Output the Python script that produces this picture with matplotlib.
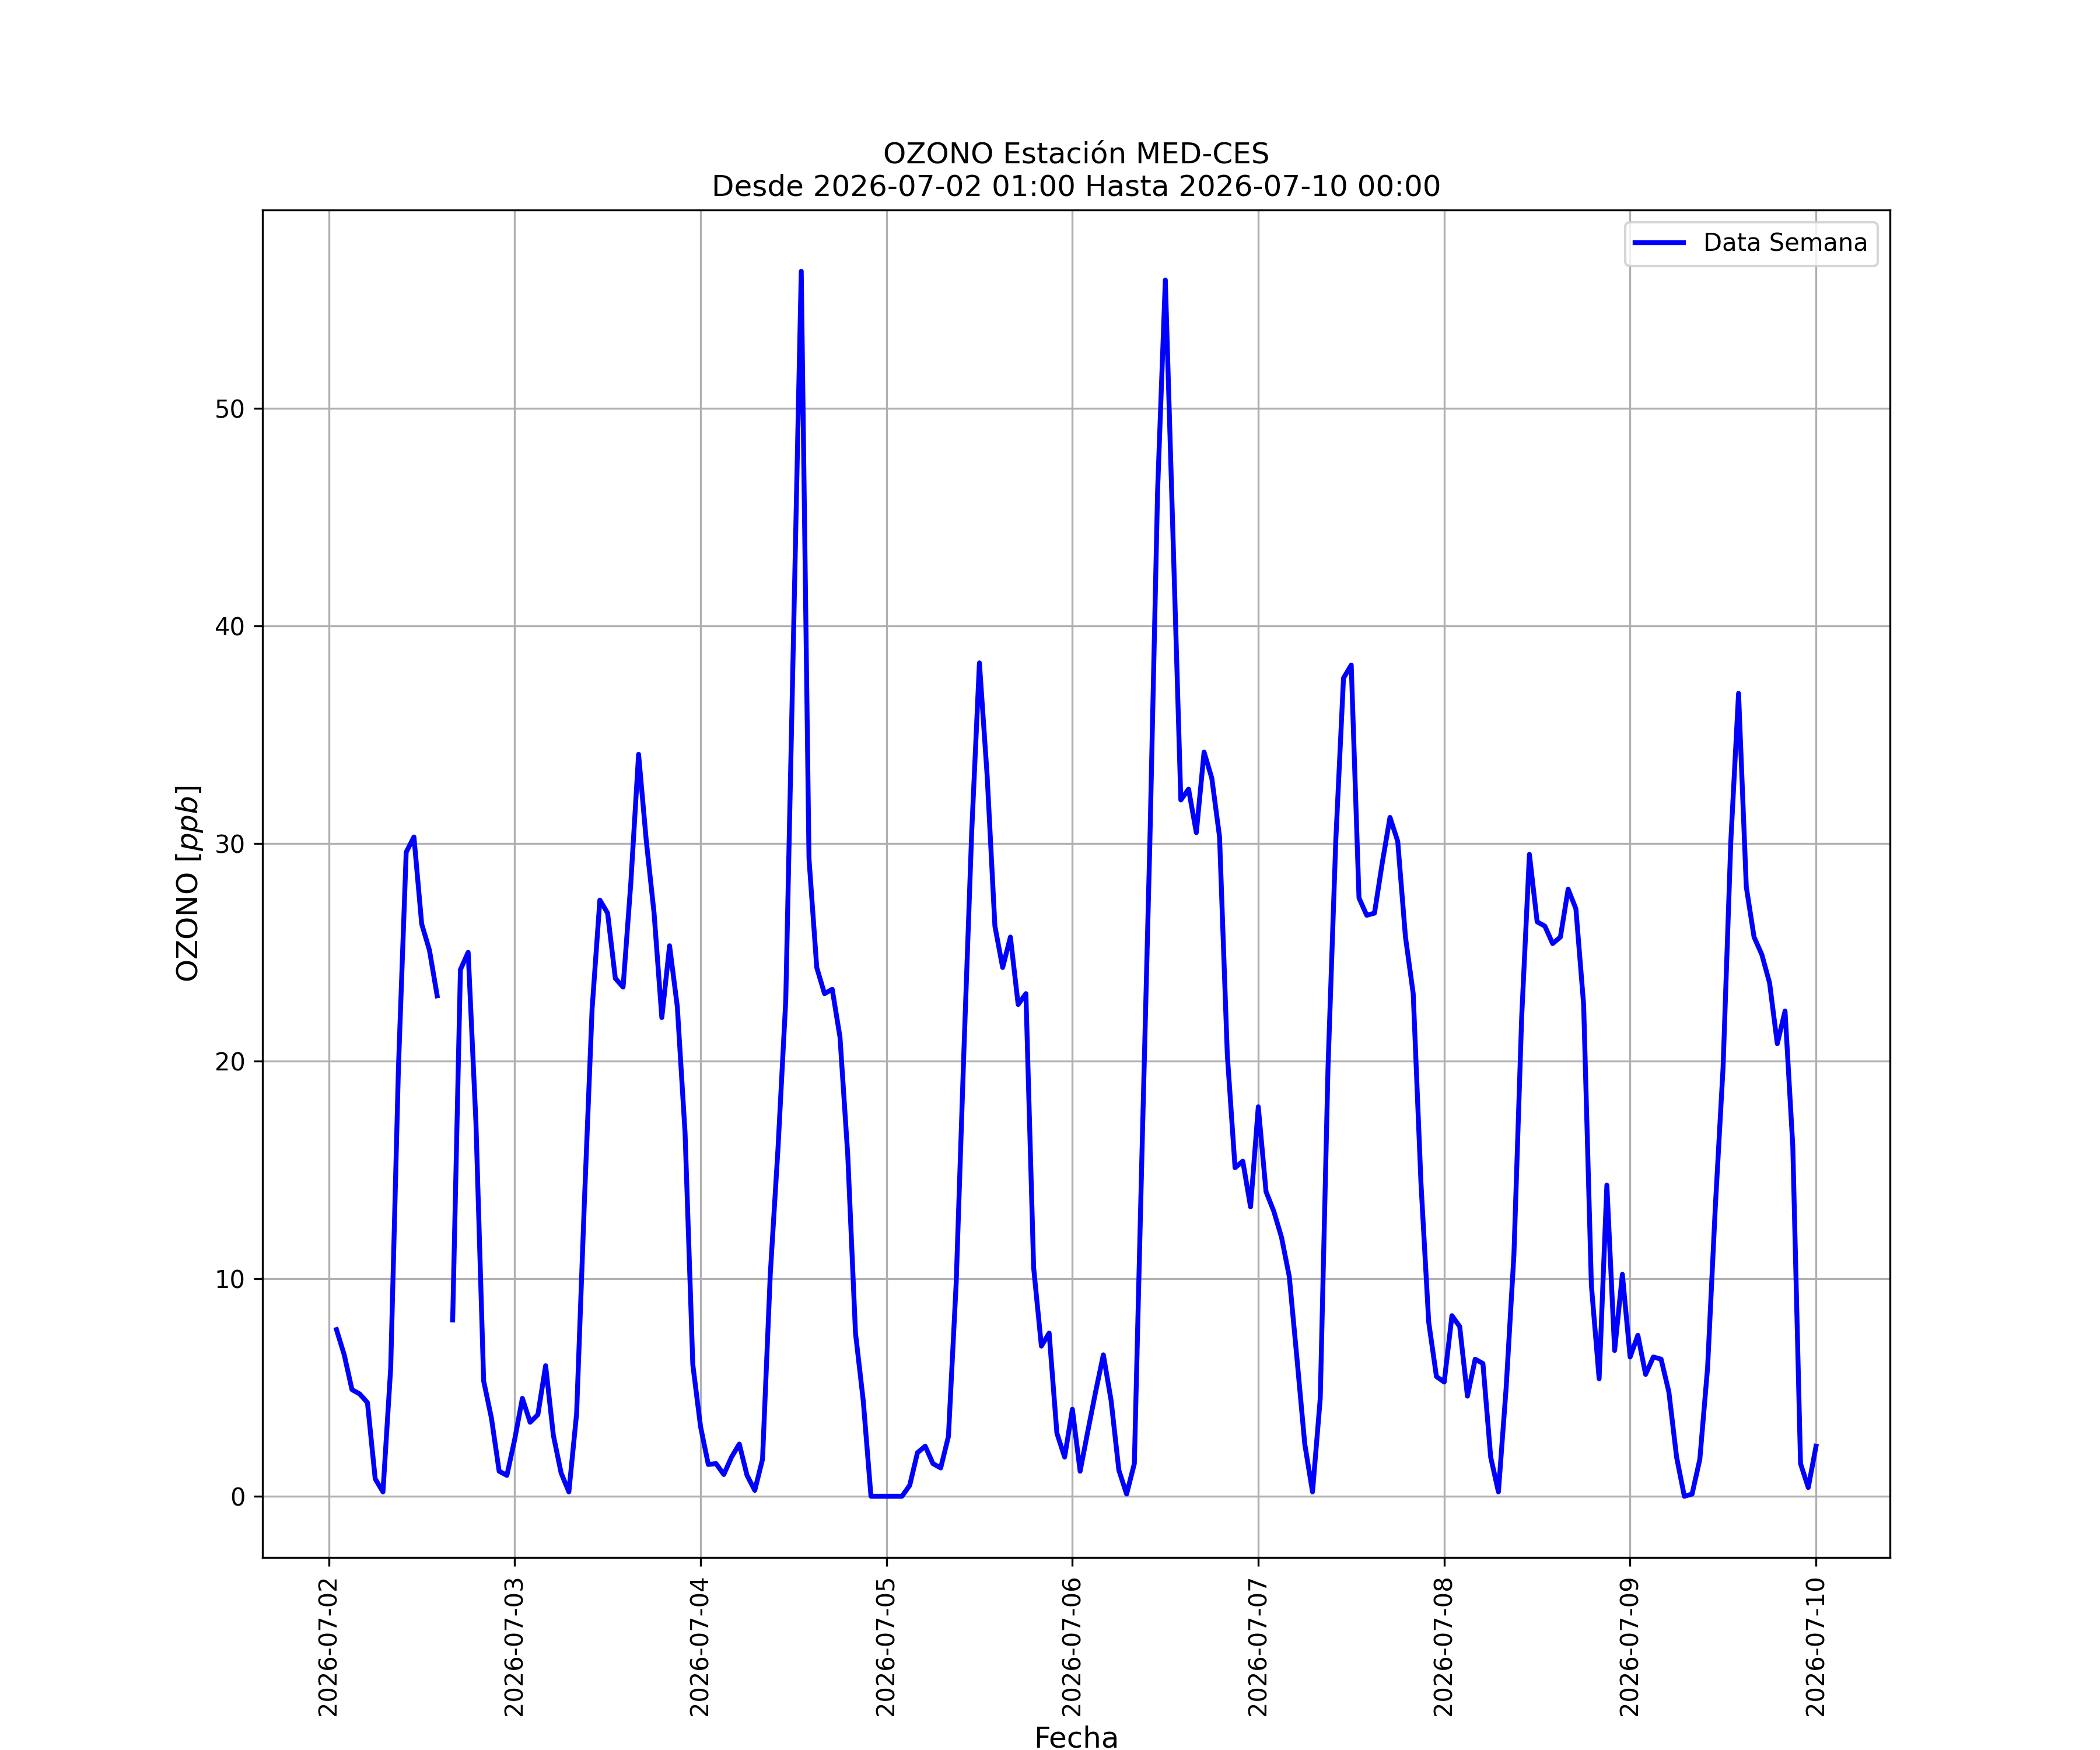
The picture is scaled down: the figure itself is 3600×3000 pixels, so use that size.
import numpy as np
import pandas as pd
import matplotlib
matplotlib.use('Agg')
from matplotlib import pyplot as plt

# hourly ozone values [ppb], one list per day (hour 1 .. hour 24)
start = '2026-07-02 01:00'
end = '2026-07-10 00:00'
dia_02 = [7.66, 6.5, 4.9, 4.7, 4.3, 0.8, 0.2, 5.9, 19.7, 29.6, 30.3, 26.3,
          25.1, 23.0, np.nan, 8.1, 24.2, 25.0, 17.2, 5.3, 3.6, 1.15, 0.96, 2.6]
dia_03 = [4.5, 3.4, 3.75, 6.0, 2.8, 1.07, 0.2, 3.8, 13.5, 22.4, 27.4, 26.8,
          23.8, 23.4, 28.2, 34.1, 30.1, 26.8, 22.0, 25.3, 22.5, 16.7, 6.05, 3.2]
dia_04 = [1.46, 1.5, 1.0, 1.8, 2.4, 0.96, 0.27, 1.7, 10.2, 16.0, 22.8, 39.5,
          56.3, 29.3, 24.3, 23.1, 23.3, 21.1, 15.7, 7.5, 4.4, 0.0, 0.0, 0.0]
dia_05 = [0.0, 0.0, 0.5, 2.0, 2.3, 1.5, 1.3, 2.75, 9.8, 20.5, 30.5, 38.3,
          33.1, 26.2, 24.3, 25.7, 22.6, 23.1, 10.5, 6.9, 7.5, 2.9, 1.8, 4.0]
dia_06 = [1.15, 3.0, 4.8, 6.5, 4.4, 1.2, 0.1, 1.5, 16.0, 30.0, 46.2, 55.9,
          44.0, 32.0, 32.5, 30.5, 34.2, 33.0, 30.3, 20.3, 15.1, 15.4, 13.3, 17.9]
dia_07 = [14.0, 13.1, 11.9, 10.1, 6.3, 2.4, 0.2, 4.5, 19.7, 30.1, 37.6, 38.2,
          27.5, 26.7, 26.8, 29.1, 31.2, 30.1, 25.7, 23.1, 14.4, 8.0, 5.5, 5.25]
dia_08 = [8.3, 7.8, 4.6, 6.3, 6.1, 1.8, 0.2, 5.0, 11.1, 22.0, 29.5, 26.4,
          26.2, 25.4, 25.7, 27.9, 27.0, 22.6, 9.7, 5.4, 14.3, 6.7, 10.2, 6.4]
dia_09 = [7.4, 5.6, 6.4, 6.3, 4.8, 1.8, 0.0, 0.1, 1.7, 5.9, 13.3, 19.7,
          30.1, 36.9, 28.0, 25.7, 24.9, 23.6, 20.8, 22.3, 16.1, 1.5, 0.4, 2.3]


def main():
    ozono = dia_02 + dia_03 + dia_04 + dia_05 + dia_06 + dia_07 + dia_08 + dia_09
    fechas = pd.date_range(start, end, freq='h')

    plt.figure(figsize=(12, 10))
    plt.plot(fechas.to_numpy(), ozono, color='b', linewidth=2, label='Data Semana')
    plt.title('OZONO Estación MED-CES\nDesde %s Hasta %s' % (start, end))
    plt.xlabel('Fecha', fontsize=12)
    plt.ylabel('OZONO [$ppb$]', fontsize=12)
    plt.xticks(rotation=90)
    plt.grid(True)
    plt.legend(loc='upper right')
    plt.savefig('out.png', dpi=300)


if __name__ == '__main__':
    main()
